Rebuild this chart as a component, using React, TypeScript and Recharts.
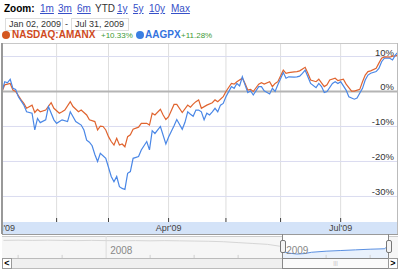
import React from 'react'
import {
  LineChart,
  Line,
  XAxis,
  YAxis,
  CartesianGrid,
  ReferenceLine,
  ComposedChart,
  Area,
} from 'recharts'

// trading-day index (0 = Jan 02 2009, 145 = Jul 31 2009) and % change
const amanxDay = [0, 1, 3, 4, 5, 7, 8, 9, 11, 12, 13, 14, 16, 18, 19, 21, 22, 23, 25, 26, 28, 29, 31, 32, 34, 35, 36, 37, 38, 39, 40, 41, 42, 43, 44, 45, 46, 47, 48, 50, 51, 53, 54, 55, 56, 58, 59, 60, 61, 63, 64, 66, 68, 69, 70, 71, 72, 73, 75, 77, 78, 79, 81, 82, 84, 85, 86, 88, 89, 90, 91, 92, 94, 95, 96, 98, 99, 100, 101, 103, 104, 105, 107, 108, 109, 111, 112, 113, 115, 116, 118, 119, 120, 122, 123, 125, 126, 128, 129, 131, 132, 133, 134, 135, 137, 138, 139, 140, 142, 143, 144, 145]
const amanxPct = [0, 1.9, 2.3, 0.4, 0, -2.4, -3.4, -4.8, -3.9, -6, -5.1, -5.8, -5.3, -3.2, -4.8, -6.2, -5.8, -5.3, -2.9, -4.3, -5.8, -5.3, -6.7, -8.1, -8.6, -11, -9.9, -10, -11, -12.9, -14.3, -15.3, -13.4, -15.3, -15, -15.8, -12.9, -12.4, -10.8, -10.2, -9.1, -9.1, -9.6, -6.2, -6.7, -5.1, -6.7, -8, -7.2, -3.7, -3.7, -6, -3.9, -4.5, -3.6, -2.9, -2.4, -4.8, -3.9, -3.2, -2.4, -2.9, -1.5, 0, 2.3, 2.1, 2.8, 3.8, 2.3, 0.4, 0.6, 0, 2.1, 2.5, 2.1, 2.8, 1.4, 2.3, 2.8, 6.1, 5.2, 5.4, 5.6, 5.7, 5.9, 6.9, 5.2, 3.3, 2.8, 3.5, 1.4, 1.9, 3.3, 3.8, 3.1, 3.5, 2.1, 0.1, 0.1, 0.6, 2.8, 4.7, 5.7, 5.9, 6.6, 8.1, 9.5, 9.9, 9.8, 10.1, 10.2, 10.33]

const aagpxDay = [0, 1, 2, 3, 4, 5, 6, 8, 9, 11, 12, 13, 14, 16, 17, 19, 20, 22, 24, 25, 27, 29, 30, 31, 32, 33, 34, 35, 36, 38, 40, 41, 42, 43, 44, 45, 46, 47, 48, 50, 51, 53, 54, 55, 56, 58, 60, 61, 63, 64, 66, 67, 68, 69, 70, 71, 72, 73, 74, 75, 76, 77, 78, 79, 80, 81, 82, 84, 85, 86, 87, 88, 89, 90, 91, 92, 94, 95, 96, 98, 99, 100, 101, 103, 104, 105, 107, 108, 109, 110, 111, 112, 113, 115, 116, 117, 118, 119, 121, 122, 123, 124, 126, 127, 129, 130, 132, 133, 134, 135, 137, 138, 139, 140, 142, 143, 144, 145]
const aagpxPct = [0, 2.8, 2.5, 3.5, 0.9, 0.6, -1.5, -3.9, -5.8, -6.2, -11, -7.7, -8.9, -8.1, -4.3, -8.1, -9.1, -8.1, -8.6, -5.8, -8.6, -9.6, -11, -13.9, -14.5, -15.5, -18, -20, -17.7, -19.1, -24.3, -25.8, -24.3, -27.2, -27.7, -28, -23.4, -22.9, -19.1, -18.6, -16.7, -14.3, -16.7, -11.2, -12, -10, -15, -13, -9.8, -8, -10.8, -8.8, -5.8, -6.5, -7.1, -5.3, -5.3, -5.8, -8.1, -6.2, -6.7, -5.8, -4.8, -5.8, -3.9, -3.4, -1.5, 1.4, 0.9, 2.3, 1.6, 4.2, 1.9, -0.3, 0.2, -1, 1.4, 1.4, 0.2, -0.7, 0.9, 0, 1.9, 5.4, 3.8, 4.2, 4.1, 4.2, 4.4, 5.2, 6.1, 4.2, 2.3, 1.1, 2.3, 1.4, -0.3, 0, 2.3, 2.8, 2.3, 2.8, 0.4, -1.5, -2.2, -1.9, 0.9, 3.3, 4.7, 5.2, 5.7, 6.6, 8.5, 9.5, 9.5, 9, 10.4, 11.28]

// first trading day of each month
const monthStarts = [0, 20, 39, 61, 82, 102, 124]
const monthLabels = ["Jan'09", '', '', "Apr'09", '', '', "Jul'09"]
const pctTicks = [-30, -20, -10, 0, 10]

// navigator: months relative to Jan 2008, index values
const navHistMonth = [-7, -6, -5, -4, -3, -2, -1, 0, 1, 2, 3, 4, 5, 6, 7, 8, 9, 10, 11, 12]
const navHistValue = [80, 81, 80, 81, 80, 79, 80, 79, 78, 79, 78, 79, 78, 77, 76, 74, 70, 66, 62, 52]
const navCurMonth = [12, 12.5, 13, 13.5, 14, 15, 16, 17, 18, 19, 19.2]
const navCurValue = [30, 22, 18, 20, 26, 31, 34, 37, 40, 42, 56]
const navQuarters = [-6, -3, 3, 6, 9, 15, 18]

const pick = (days: number[], vals: number[], d: number) => {
  const i = days.indexOf(d)
  return i >= 0 ? vals[i] : null
}

const mainData = Array.from(new Set([...amanxDay, ...aagpxDay]))
  .sort((a, b) => a - b)
  .map((d) => ({
    d,
    amanx: pick(amanxDay, amanxPct, d),
    aagpx: pick(aagpxDay, aagpxPct, d),
  }))

const navData = Array.from(new Set([...navHistMonth, ...navCurMonth]))
  .sort((a, b) => a - b)
  .map((m) => ({
    m,
    hist: pick(navHistMonth, navHistValue, m),
    cur: pick(navCurMonth, navCurValue, m),
  }))

const FONT = 'Arial, "Liberation Sans", sans-serif'
const CHART_W = 396
const PLOT_H = 179
const AXIS_H = 12
const ORANGE = '#e0642f'
const BLUE = '#4a87e6'

// % label sitting just above its grid line at the right edge
const PctLabel = ({ viewBox, text }: any) => (
  <text
    x={viewBox.x + viewBox.width - 4}
    y={viewBox.y - 1}
    textAnchor="end"
    fontSize={9.5}
    fill="#333"
    fontFamily={FONT}
  >
    {text}
  </text>
)

const XTick = ({ x, payload, index }: any) => (
  <g>
    <line x1={x} x2={x} y1={PLOT_H - 4} y2={PLOT_H} stroke="#444" />
    <text x={x} y={PLOT_H + 9} textAnchor="middle" fontSize={9} fill="#444" fontFamily={FONT}>
      {monthLabels[monthStarts.indexOf(payload.value)] ?? monthLabels[index]}
    </text>
  </g>
)

const abs = (left: number, top: number, extra: React.CSSProperties = {}): React.CSSProperties => ({
  position: 'absolute',
  left,
  top,
  ...extra,
})

const links = [
  { t: '1m', x: 40 },
  { t: '3m', x: 58 },
  { t: '6m', x: 77 },
  { t: 'YTD', x: 95 },
  { t: '1y', x: 117 },
  { t: '5y', x: 133 },
  { t: '10y', x: 149 },
  { t: 'Max', x: 171 },
]

export default function App() {
  return (
    <div style={{ position: 'relative', width: 400, height: 269, background: '#fff', fontFamily: FONT, overflow: 'hidden' }}>
      <style>{'body{margin:0}'}</style>

      {/* zoom links */}
      <span style={abs(4, 3, { fontSize: 10, fontWeight: 'bold', color: '#000' })}>Zoom:</span>
      {links.map((l) => (
        <span
          key={l.t}
          style={abs(l.x, 3, {
            fontSize: 10,
            color: l.t === 'YTD' ? '#333' : '#3650c8',
            textDecoration: l.t === 'YTD' ? 'none' : 'underline',
          })}
        >
          {l.t}
        </span>
      ))}

      {/* date range */}
      <div style={abs(5, 18, { width: 53, height: 11, border: '1px solid #ddd', fontSize: 9, color: '#333', lineHeight: '11px', paddingLeft: 3, whiteSpace: 'nowrap' })}>
        Jan 02, 2009
      </div>
      <span style={abs(65, 18, { fontSize: 9, color: '#333', lineHeight: '12px' })}>-</span>
      <div style={abs(71, 18, { width: 53, height: 11, border: '1px solid #ddd', fontSize: 9, color: '#333', lineHeight: '11px', paddingLeft: 3, whiteSpace: 'nowrap' })}>
        Jul 31, 2009
      </div>

      {/* legend */}
      <div style={abs(2, 31, { width: 8, height: 8, borderRadius: 4, background: '#d4571f' })} />
      <span style={abs(12, 29, { fontSize: 10, fontWeight: 'bold', color: '#cf4a1d' })}>NASDAQ:AMANX</span>
      <span style={abs(101, 31, { fontSize: 8, color: '#3d9a35' })}>+10.33%</span>
      <div style={abs(136, 31, { width: 8, height: 8, borderRadius: 4, background: '#3b7ee2' })} />
      <span style={abs(145, 29, { fontSize: 10, fontWeight: 'bold', color: '#3473de' })}>AAGPX</span>
      <span style={abs(181, 31, { fontSize: 8, color: '#3d9a35' })}>+11.28%</span>

      {/* date band */}
      <div style={abs(2, 43 + PLOT_H, { width: CHART_W, height: AXIS_H, background: '#d4e3f8', borderBottom: '1px solid #9a9a9a' })} />

      {/* main chart */}
      <div style={abs(2, 43)}>
        <LineChart width={CHART_W} height={PLOT_H + AXIS_H} data={mainData} margin={{ top: 0, right: 0, bottom: 0, left: 0 }}>
          <CartesianGrid horizontal={false} stroke="#dedede" />
          <XAxis
            type="number"
            dataKey="d"
            domain={[0, 145]}
            ticks={monthStarts}
            height={AXIS_H}
            axisLine={false}
            tickLine={false}
            tick={<XTick />}
            interval={0}
          />
          <YAxis hide domain={[-37.3, 13.86]} />
          {pctTicks.map((t) => (
            <ReferenceLine
              key={t}
              y={t}
              stroke={t === 0 ? '#b4b4b4' : '#dadcf0'}
              strokeWidth={t === 0 ? 2 : 1}
              label={(p: any) => <PctLabel {...p} text={`${t}%`} />}
            />
          ))}
          <Line type="linear" dataKey="amanx" stroke={ORANGE} strokeWidth={1.2} dot={false} connectNulls isAnimationActive={false} />
          <Line type="linear" dataKey="aagpx" stroke={BLUE} strokeWidth={1.2} dot={false} connectNulls isAnimationActive={false} />
        </LineChart>
      </div>

      {/* chart frame */}
      <div style={abs(2, 43, { width: CHART_W, height: 1, background: '#c8c8c8' })} />
      <div style={abs(1, 43, { width: 2, height: PLOT_H + AXIS_H, background: '#999' })} />
      <div style={abs(397, 43, { width: 1, height: PLOT_H + AXIS_H, background: '#bbb' })} />

      {/* navigator */}
      <div style={abs(2, 236, { width: 280, height: 22, background: '#f6f6f6', borderTop: '1px solid #ccc' })} />
      <div style={abs(389, 236, { width: 9, height: 22, background: '#f6f6f6', borderTop: '1px solid #ccc' })} />
      <div style={abs(2, 236)}>
        <ComposedChart width={CHART_W} height={22} data={navData} margin={{ top: 0, right: 0, bottom: 0, left: 0 }}>
          <XAxis type="number" dataKey="m" domain={[-7.1, 19.9]} hide />
          <YAxis domain={[0, 100]} hide />
          <ReferenceLine
            x={0}
            stroke="#dcdcdc"
            label={{ value: '2008', position: 'insideBottomLeft', fontSize: 10, fill: '#888', offset: 4, fontFamily: FONT }}
          />
          <ReferenceLine
            x={12}
            stroke="none"
            label={{ value: '2009', position: 'insideBottomLeft', fontSize: 10, fill: '#888', offset: 4, fontFamily: FONT }}
          />
          {navQuarters.map((q) => (
            <ReferenceLine key={q} segment={[{ x: q, y: 0 }, { x: q, y: 14 }]} stroke="#cfcfcf" />
          ))}
          <Line type="linear" dataKey="hist" stroke="#d6d6d6" strokeWidth={1} dot={false} connectNulls isAnimationActive={false} />
          <Area type="linear" dataKey="cur" stroke="#5a90e2" strokeWidth={1} fill="#e9f1fc" fillOpacity={1} dot={false} connectNulls isAnimationActive={false} />
        </ComposedChart>
      </div>

      {/* selection window */}
      <div style={abs(282, 234, { width: 1, height: 24, background: '#888' })} />
      <div style={abs(388, 234, { width: 1, height: 24, background: '#888' })} />
      <div style={abs(280, 240, { width: 4, height: 11, border: '1px solid #777', borderRadius: 2, background: '#f4f4f4' })} />
      <div style={abs(386, 240, { width: 4, height: 11, border: '1px solid #777', borderRadius: 2, background: '#f4f4f4' })} />

      {/* scrollbar */}
      <div style={abs(2, 258, { width: 394, height: 9, background: '#efefef', border: '1px solid #bbb' })} />
      <div style={abs(2, 258, { width: 8, height: 9, border: '1px solid #999', background: '#fff', fontSize: 9, fontWeight: 'bold', lineHeight: '9px', textAlign: 'center' })}>&lt;</div>
      <div
        style={abs(282, 258, {
          width: 105,
          height: 9,
          border: '1px solid #888',
          background: '#fafafa',
          fontSize: 6,
          color: '#bbb',
          lineHeight: '9px',
          textAlign: 'center',
        })}
      >
        |||
      </div>
      <div style={abs(388, 258, { width: 8, height: 9, border: '1px solid #999', background: '#fff', fontSize: 9, fontWeight: 'bold', lineHeight: '9px', textAlign: 'center' })}>&gt;</div>
    </div>
  )
}
